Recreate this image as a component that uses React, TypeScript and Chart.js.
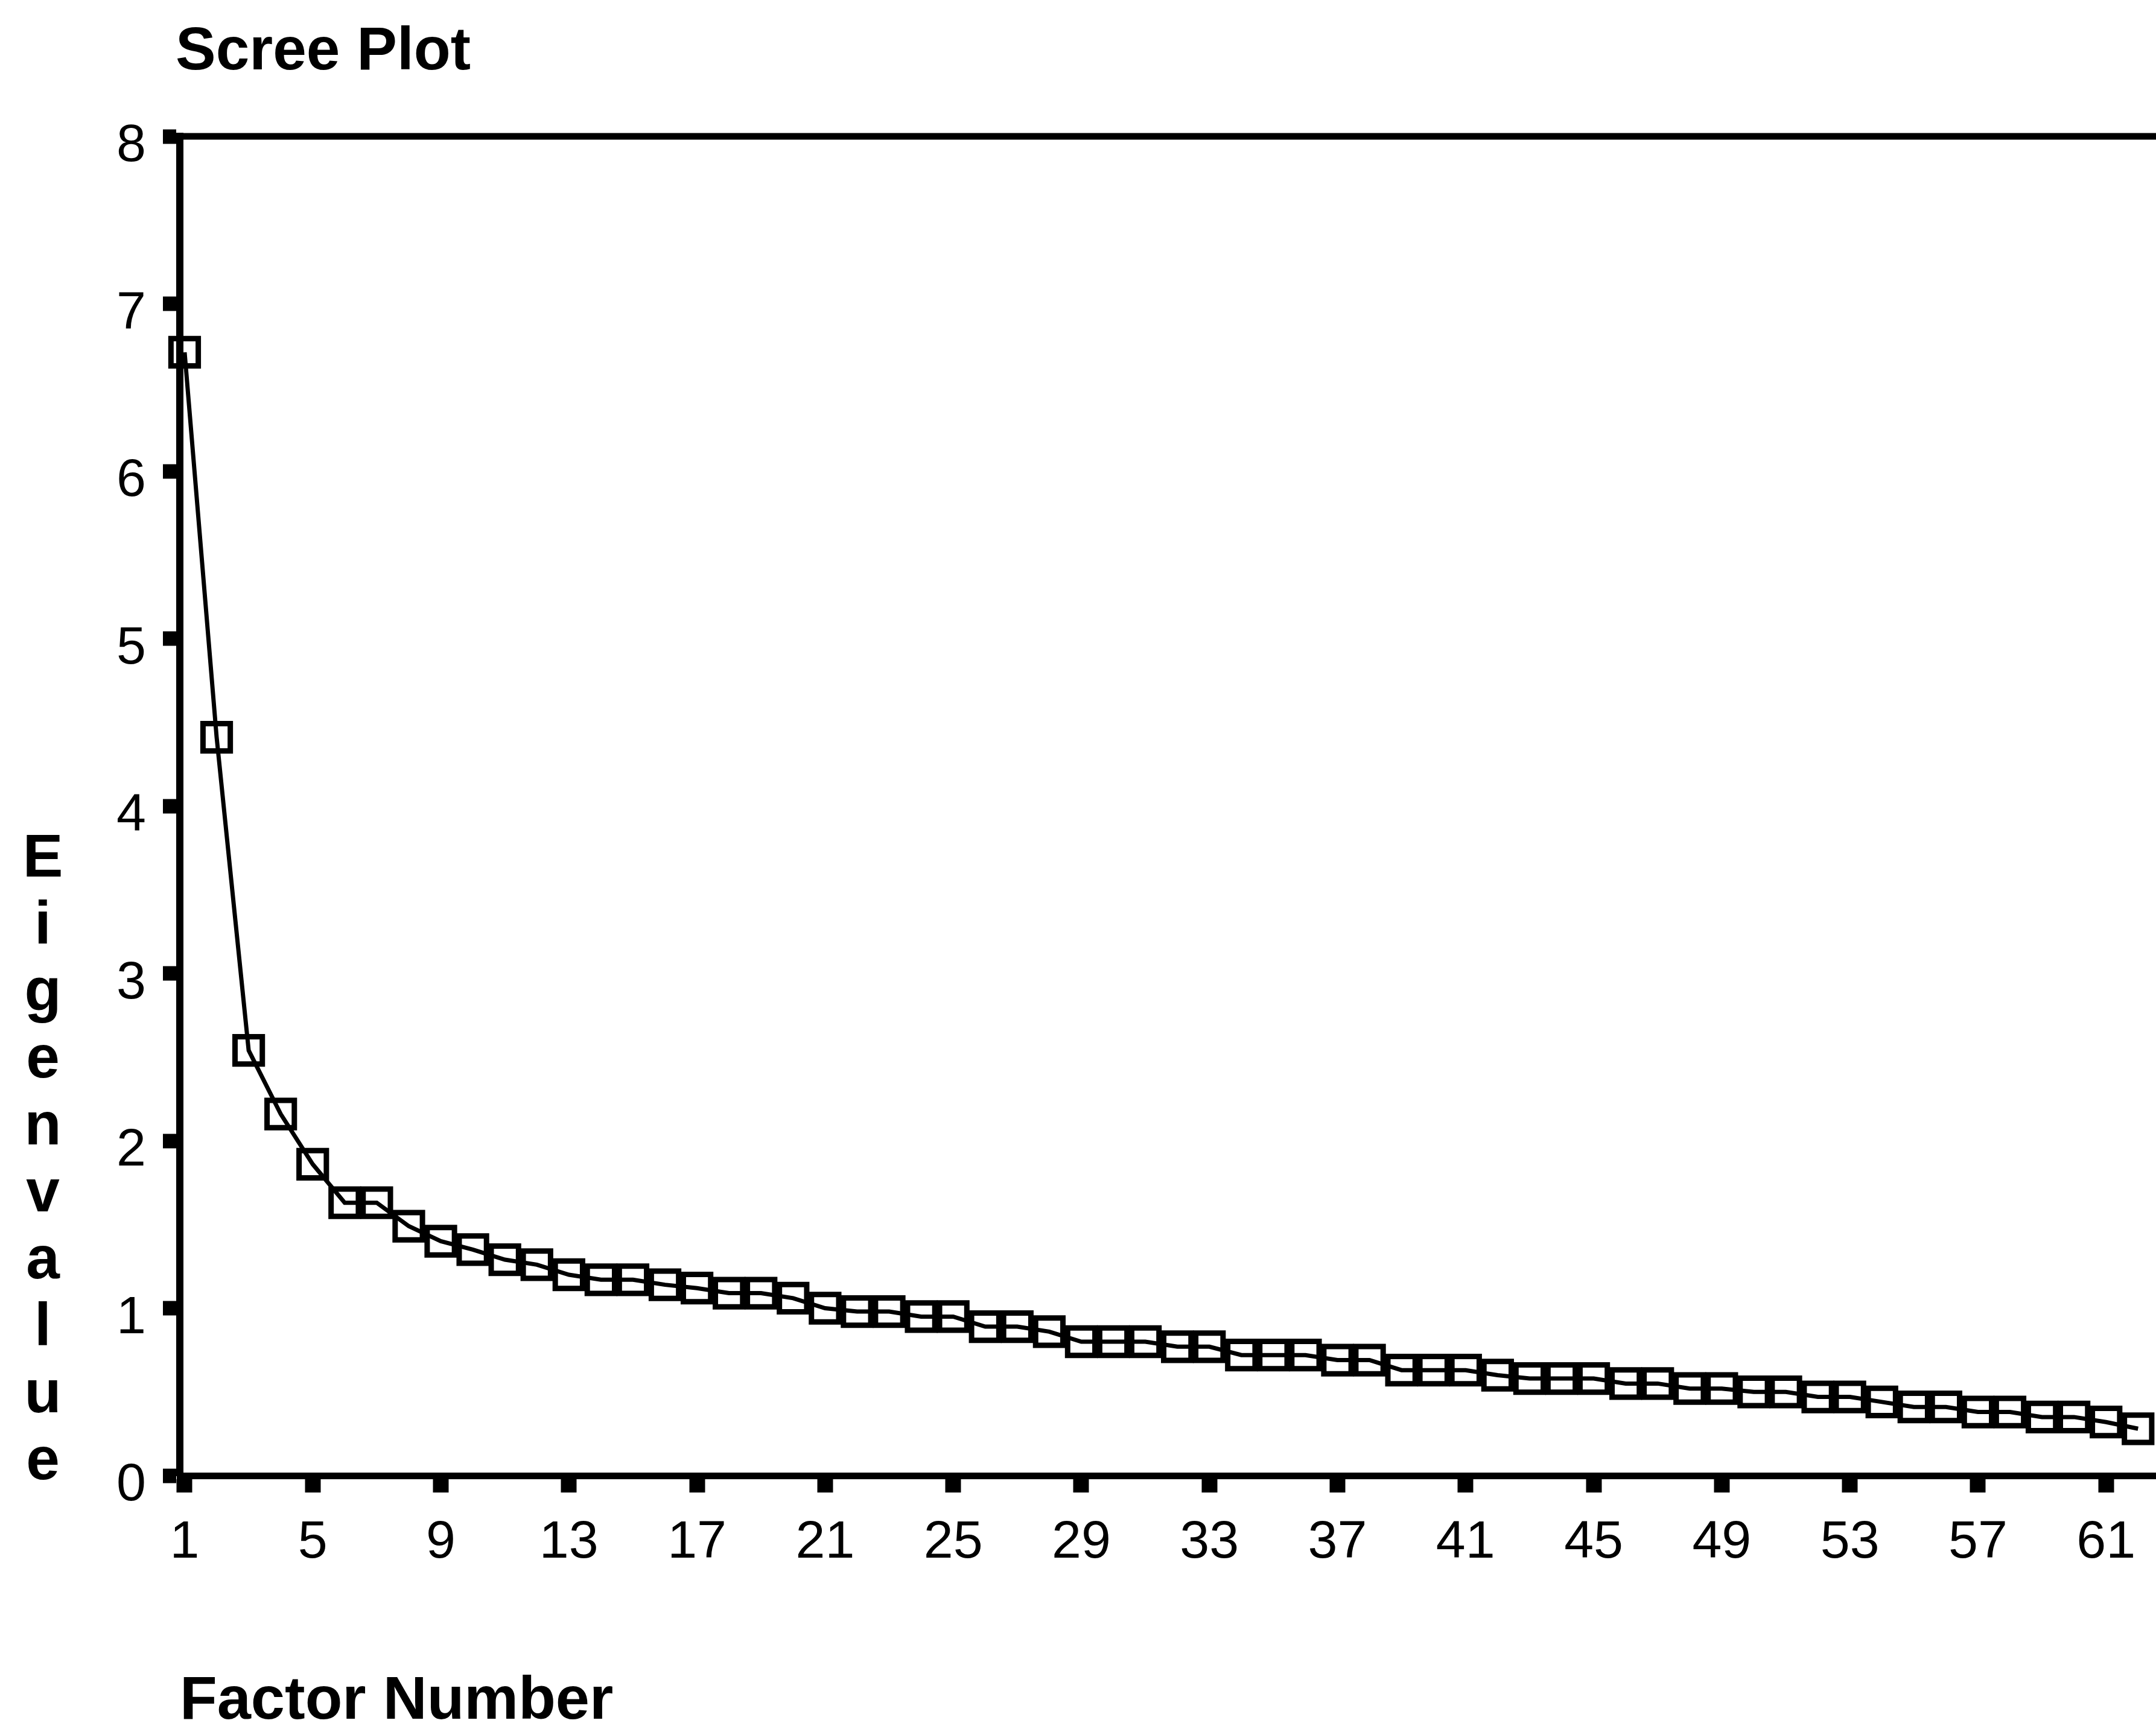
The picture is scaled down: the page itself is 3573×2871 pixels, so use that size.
import { useEffect, useRef } from 'react';
import Chart from 'chart.js/auto';

const W = 3573;
const H = 2871;
const FONT = '"Liberation Sans", Arial, Helvetica, sans-serif';

const TITLE = 'Scree Plot';
const X_TITLE = 'Factor Number';
const Y_TITLE = 'Eigenvalue';

const FACTORS = [
  1, 2, 3, 4, 5, 6, 7, 8, 9, 10, 11, 12, 13, 14, 15, 16, 17, 18, 19, 20,
  21, 22, 23, 24, 25, 26, 27, 28, 29, 30, 31, 32, 33, 34, 35, 36, 37, 38, 39, 40,
  41, 42, 43, 44, 45, 46, 47, 48, 49, 50, 51, 52, 53, 54, 55, 56, 57, 58, 59, 60,
  61, 62,
];

const EIGENVALUES = [
  6.71, 4.41, 2.54, 2.16, 1.86, 1.63, 1.63, 1.49, 1.40, 1.35,
  1.29, 1.26, 1.20, 1.17, 1.17, 1.14, 1.12, 1.09, 1.09, 1.06,
  1.00, 0.98, 0.98, 0.95, 0.95, 0.89, 0.89, 0.86, 0.80, 0.80,
  0.80, 0.77, 0.77, 0.72, 0.72, 0.72, 0.69, 0.69, 0.63, 0.63,
  0.63, 0.60, 0.58, 0.58, 0.58, 0.55, 0.55, 0.52, 0.52, 0.50,
  0.50, 0.47, 0.47, 0.44, 0.41, 0.41, 0.38, 0.38, 0.35, 0.35,
  0.32, 0.28,
];

const X_TICKS = [1, 5, 9, 13, 17, 21, 25, 29, 33, 37, 41, 45, 49, 53, 57, 61];
const Y_TICKS = [0, 1, 2, 3, 4, 5, 6, 7, 8];

const textPlugin = {
  id: 'screeTexts',
  beforeDatasetsDraw(chart: any) {
    const { ctx, chartArea } = chart;
    ctx.save();
    ctx.strokeStyle = '#000';
    ctx.lineWidth = 11;
    ctx.beginPath();
    ctx.moveTo(chartArea.left - 6, chartArea.top);
    ctx.lineTo(chartArea.right + 20, chartArea.top);
    ctx.stroke();
    ctx.restore();
  },
  afterDraw(chart: any) {
    const { ctx } = chart;
    ctx.save();
    ctx.fillStyle = '#000';
    ctx.textBaseline = 'alphabetic';
    ctx.textAlign = 'left';
    ctx.font = `bold 100px ${FONT}`;
    ctx.fillText(TITLE, 291, 115);
    ctx.font = `bold 101px ${FONT}`;
    ctx.fillText(X_TITLE, 298, 2849);
    ctx.font = `bold 100px ${FONT}`;
    ctx.textAlign = 'center';
    Y_TITLE.split('').forEach((ch, i) => {
      ctx.fillText(ch, 71, 1453 + i * 111);
    });
    ctx.restore();
  },
};

export default function App() {
  const ref = useRef<HTMLCanvasElement>(null);

  useEffect(() => {
    document.body.style.margin = '0';
    document.body.style.overflow = 'hidden';
    document.body.style.background = '#fff';
    const canvas = ref.current!;
    const chart = new Chart(canvas, {
      type: 'line',
      data: {
        datasets: [
          {
            data: FACTORS.map((f, i) => ({ x: f, y: EIGENVALUES[i] })),
            borderColor: '#000',
            borderWidth: 7,
            pointStyle: 'rect',
            pointRadius: 32,
            pointBorderWidth: 9,
            pointBorderColor: '#000',
            pointBackgroundColor: 'rgba(0,0,0,0)',
            tension: 0,
            fill: false,
            clip: false as any,
          },
        ],
      },
      options: {
        animation: false,
        responsive: false,
        devicePixelRatio: 1,
        events: [],
        layout: { autoPadding: false, padding: { top: 226, left: 0, right: 0, bottom: 0 } },
        plugins: {
          legend: { display: false },
          tooltip: { enabled: false },
          title: { display: false },
        },
        scales: {
          x: {
            type: 'linear',
            min: 0.85,
            max: 62.56,
            afterBuildTicks: (s: any) => {
              s.ticks = X_TICKS.map((v) => ({ value: v }));
            },
            afterFit: (s: any) => {
              s.height = H - 2446;
              s.paddingLeft = 0;
              s.paddingRight = 0;
            },
            grid: {
              display: true,
              drawOnChartArea: false,
              drawTicks: true,
              tickLength: 28,
              tickWidth: 26,
              tickColor: '#000',
              color: '#000',
            },
            border: { display: true, color: '#000', width: 11 },
            ticks: {
              color: '#000',
              font: { family: FONT, size: 88 },
              padding: 31,
              maxRotation: 0,
              autoSkip: false,
              callback: (v: any) => String(v),
            },
          },
          y: {
            type: 'linear',
            min: 0,
            max: 8,
            afterBuildTicks: (s: any) => {
              s.ticks = Y_TICKS.map((v) => ({ value: v }));
            },
            afterFit: (s: any) => {
              s.width = 298;
              s.paddingTop = 0;
              s.paddingBottom = 0;
            },
            grid: {
              display: true,
              drawOnChartArea: false,
              drawTicks: true,
              tickLength: 28,
              tickWidth: 24,
              tickColor: '#000',
              color: '#000',
            },
            border: { display: true, color: '#000', width: 12 },
            ticks: {
              color: '#000',
              font: { family: FONT, size: 88 },
              padding: 28,
              labelOffset: 17,
              autoSkip: false,
              callback: (v: any) => String(v),
            },
          },
        },
      },
      plugins: [textPlugin],
    });
    return () => chart.destroy();
  }, []);

  return (
    <div style={{ width: W, height: H, position: 'relative', background: '#fff' }}>
      <canvas ref={ref} width={W} height={H} style={{ display: 'block', width: W, height: H }} />
    </div>
  );
}
